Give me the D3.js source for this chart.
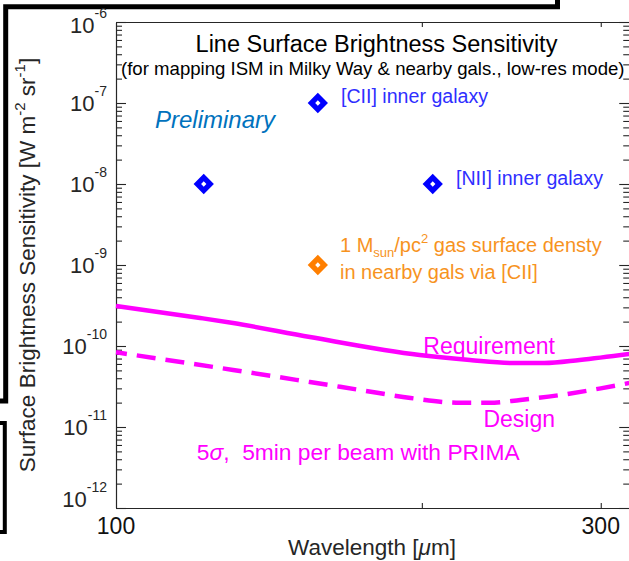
<!DOCTYPE html>
<html><head><meta charset="utf-8">
<script src="https://cdn.jsdelivr.net/npm/d3@7"></script>
<style>
body{margin:0;background:#fff}
svg{display:block;font-family:"Liberation Sans",Arial,Helvetica,sans-serif}
</style>
</head><body>
<svg id="c" width="629" height="561"></svg>
<script>
// ---------- data ----------
const xDomain = [100, 320];
const yDomain = [1e-12, 1e-6];
const xTickValues = [200, 300];
const xLabelValues = [100, 300];
const xLabelTexts = ["100", "300"];
const yExponents = [-12, -11, -10, -9, -8, -7, -6];

const reqWavelength = [100, 121, 130.4, 155.2, 199, 223, 247, 264, 286, 320];
const reqValue = [3.12e-10, 2.22e-10, 1.92e-10, 1.29e-10, 7.74e-11, 6.72e-11, 6.16e-11, 6.16e-11, 6.72e-11, 7.96e-11];

const designWavelength = [100, 130.4, 155.2, 174, 195, 218, 233, 250, 273.5, 300, 320];
const designValue = [8.36e-11, 5.06e-11, 3.59e-11, 2.86e-11, 2.28e-11, 1.99e-11, 1.99e-11, 2.16e-11, 2.48e-11, 3.0e-11, 3.49e-11];

const pointNames = ["[NII] 122", "[CII] inner galaxy", "[NII] inner galaxy", "[CII] nearby gals"];
const pointWavelength = [122, 158, 205, 158];
const pointValue = [1e-8, 1e-7, 1e-8, 1e-9];
const pointGroup = ["galaxy", "galaxy", "galaxy", "nearby"];

// ---------- setup ----------
const svg = d3.select("#c");
const X0 = 116, Y0 = 508, Y1 = 22, PXDEC = 1016;
const x = d3.scaleLog().domain(xDomain).range([X0, X0 + PXDEC * Math.log10(xDomain[1] / xDomain[0])]);
const y = d3.scaleLog().domain(yDomain).range([Y0, Y1]);
const X1 = x.range()[1];
const axisColor = "#262626";
const magenta = "#ff00ff";
const colorMap = {galaxy: "#0000ff", nearby: "#ff7f00"};

// slide bracket artefacts
svg.append("path").attr("d", "M557.5,0V6.7H5.7V401H0").attr("fill", "none")
  .attr("stroke", "#000").attr("stroke-width", 5).attr("stroke-linejoin", "miter");
svg.append("path").attr("d", "M0,423H4.8V532H0").attr("fill", "none")
  .attr("stroke", "#000").attr("stroke-width", 4).attr("stroke-linejoin", "miter");

// ---------- axes ----------
const yMajor = yExponents.map(e => Math.pow(10, e));
const yMinor = [];
yExponents.slice(0, -1).forEach(e => { for (let k = 2; k <= 9; k++) yMinor.push(k * Math.pow(10, e)); });

function styleAxis(g) { g.attr("color", axisColor); g.selectAll("path,line").attr("stroke-width", 1.1); }

svg.append("g").attr("transform", `translate(${X0},0)`)
  .call(d3.axisLeft(y).tickValues(yMinor).tickSize(-6).tickSizeOuter(0).tickFormat("")).call(styleAxis);
svg.append("g").attr("transform", `translate(${X0},0)`)
  .call(d3.axisLeft(y).tickValues(yMajor).tickSize(-10).tickSizeOuter(0).tickFormat("")).call(styleAxis);
svg.append("g").attr("transform", `translate(${X1},0)`)
  .call(d3.axisRight(y).tickValues(yMinor).tickSize(-6).tickSizeOuter(0).tickFormat("")).call(styleAxis);
svg.append("g").attr("transform", `translate(${X1},0)`)
  .call(d3.axisRight(y).tickValues(yMajor).tickSize(-10).tickSizeOuter(0).tickFormat("")).call(styleAxis);
svg.append("g").attr("transform", `translate(0,${Y0})`)
  .call(d3.axisBottom(x).tickValues(xTickValues).tickSize(-5).tickSizeOuter(0).tickFormat("")).call(styleAxis);
svg.append("g").attr("transform", `translate(0,${Y1})`)
  .call(d3.axisTop(x).tickValues(xTickValues).tickSize(-5).tickSizeOuter(0).tickFormat("")).call(styleAxis);

// y tick labels (end labels nudged inside, as in the original)
yExponents.forEach(e => {
  const off = e === -6 ? 11 : (e === -12 ? -1.3 : 7.5);
  const t = svg.append("text").attr("x", 107)
    .attr("y", y(Math.pow(10, e)) + off)
    .attr("text-anchor", "end").attr("fill", axisColor).attr("font-size", 22);
  t.append("tspan").text("10");
  t.append("tspan").attr("font-size", 14).attr("dy", -15).text(String(e));
});
// x tick labels
xLabelValues.forEach((v, i) => {
  svg.append("text").attr("x", x(v)).attr("y", 533.5).attr("text-anchor", "middle")
    .attr("fill", "#111").attr("font-size", 23).text(xLabelTexts[i]);
});

// axis titles
const xl = svg.append("text").attr("x", 372).attr("y", 555).attr("text-anchor", "middle")
  .attr("fill", axisColor).attr("font-size", 22.5);
xl.append("tspan").text("Wavelength [");
xl.append("tspan").attr("font-style", "italic").text("μ");
xl.append("tspan").text("m]");

const yl = svg.append("text").attr("transform", "translate(35,265) rotate(-90)")
  .attr("text-anchor", "middle").attr("fill", axisColor).attr("font-size", 22.5);
yl.append("tspan").text("Surface Brightness Sensitivity [W m");
yl.append("tspan").attr("font-size", 15).attr("dy", -10).text("-2");
yl.append("tspan").attr("dy", 10).text(" sr");
yl.append("tspan").attr("font-size", 15).attr("dy", -10).text("-1");
yl.append("tspan").attr("dy", 10).text("]");

// ---------- lines ----------
const line = d3.line().x(d => x(d[0])).y(d => y(d[1])).curve(d3.curveMonotoneX);
svg.append("path").datum(d3.zip(reqWavelength, reqValue)).attr("d", line)
  .attr("fill", "none").attr("stroke", magenta).attr("stroke-width", 4.5);
svg.append("path").datum(d3.zip(designWavelength, designValue)).attr("d", line)
  .attr("fill", "none").attr("stroke", magenta).attr("stroke-width", 4.5)
  .attr("stroke-dasharray", "19,10").attr("stroke-dashoffset", 8);

// ---------- markers ----------
const diamond = d3.symbol().type(d3.symbolSquare).size(82);
svg.selectAll("path.pt").data(d3.range(pointNames.length)).join("path").attr("class", "pt")
  .attr("d", diamond)
  .attr("transform", i => `translate(${x(pointWavelength[i])},${y(pointValue[i])}) rotate(45)`)
  .attr("fill", "#fff").attr("stroke", i => colorMap[pointGroup[i]])
  .attr("stroke-width", 5.3).attr("stroke-linejoin", "miter");

// ---------- annotations ----------
svg.append("text").attr("x", 376.5).attr("y", 51.7).attr("text-anchor", "middle")
  .attr("font-size", 23.5).attr("fill", "#000").text("Line Surface Brightness Sensitivity");
svg.append("text").attr("x", 372.8).attr("y", 75).attr("text-anchor", "middle")
  .attr("font-size", 18.6).attr("fill", "#000")
  .text("(for mapping ISM in Milky Way & nearby gals., low-res mode)");
svg.append("text").attr("x", 155).attr("y", 128).attr("font-size", 24).attr("font-style", "italic")
  .attr("fill", "#0072bd").text("Preliminary");
svg.append("text").attr("x", 341).attr("y", 103).attr("font-size", 19.6).attr("fill", "#2f2fff")
  .text("[CII] inner galaxy");
svg.append("text").attr("x", 456).attr("y", 184.5).attr("font-size", 19.6).attr("fill", "#2f2fff")
  .text("[NII] inner galaxy");
const o1 = svg.append("text").attr("x", 340).attr("y", 251.7).attr("font-size", 20).attr("fill", "#f7931e");
o1.append("tspan").text("1 M");
o1.append("tspan").attr("font-size", 13).attr("dy", 5).text("sun");
o1.append("tspan").attr("dy", -5).text("/pc");
o1.append("tspan").attr("font-size", 13).attr("dy", -9).text("2");
o1.append("tspan").attr("dy", 9).text(" gas surface densty");
svg.append("text").attr("x", 340).attr("y", 278.5).attr("font-size", 20).attr("fill", "#f7931e")
  .text("in nearby gals via [CII]");
svg.append("text").attr("x", 555).attr("y", 354).attr("text-anchor", "end").attr("font-size", 23)
  .attr("fill", magenta).text("Requirement");
svg.append("text").attr("x", 555).attr("y", 427).attr("text-anchor", "end").attr("font-size", 23)
  .attr("fill", magenta).text("Design");
const s5 = svg.append("text").attr("x", 196.7).attr("y", 459.5).attr("font-size", 22.8)
  .attr("fill", magenta).style("white-space", "pre");
s5.append("tspan").text("5");
s5.append("tspan").attr("font-style", "italic").text("σ");
s5.append("tspan").text(",  5min per beam with PRIMA");
</script>
</body></html>
